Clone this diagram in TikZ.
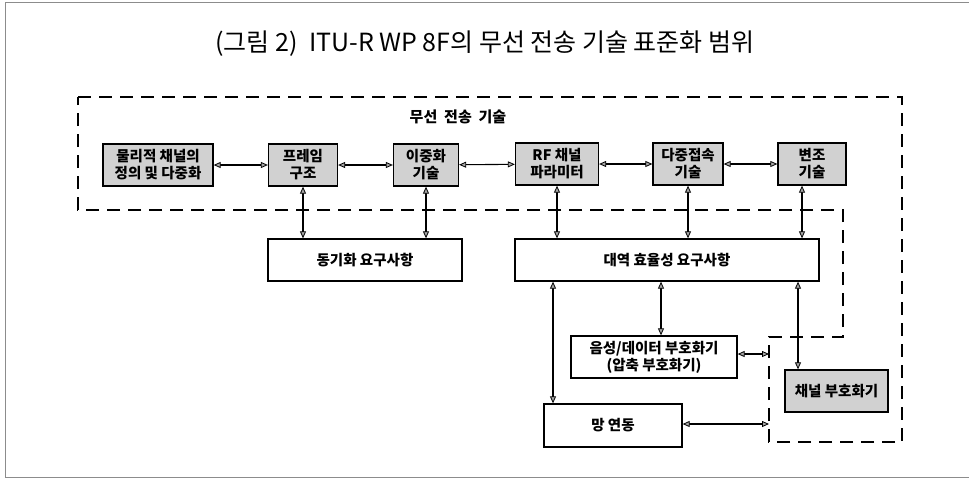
\documentclass[tikz,border=0pt]{standalone}
\usepackage{fontspec}
\setmainfont{Noto Sans CJK KR}
\usetikzlibrary{arrows.meta}
\tikzset{
  blk/.style={draw, line width=1.3pt, rectangle, inner sep=0pt, align=center, font=\bfseries\fontsize{14.5}{17}\selectfont, minimum height=42pt},
  gblk/.style={blk, fill=black!18},
  tipA/.tip={Triangle[length=7pt, width=6pt, fill=black!35, line width=0.8pt]},
  dbl/.style={line width=1.1pt, tipA-tipA},
  bound/.style={line width=1.5pt, dash pattern=on 13pt off 8pt},
}
\begin{document}
\begin{tikzpicture}[x=1pt,y=-1pt]
\useasboundingbox (0,0) rectangle (969,479);
\draw[black!45, line width=0.8pt] (969,2) -- (5,2) -- (5,477) -- (969,477);
\node[font=\fontsize{25}{28}\selectfont] (title) at (485,44) {(그림 2)\ \ ITU-R WP 8F의 무선 전송 기술 표준화 범위};
% boundary
\draw[bound] (78,97) -- (902,97) -- (902,442) -- (769,442) -- (769,337) -- (843,337) -- (843,210) -- (78,210) -- cycle;
\node[font=\bfseries\fontsize{15}{17}\selectfont] (lbl) at (458,117) {무선\ \ 전송\ \ 기술};
% top row
\node[gblk, minimum width=110pt] (b1) at (158,165) {물리적 채널의\\정의 및 다중화};
\node[gblk, minimum width=69pt] (b2) at (303,165) {프레임\\구조};
\node[gblk, minimum width=65pt] (b3) at (426,165) {이중화\\기술};
\node[gblk, minimum width=83pt] (b4) at (557,164) {RF 채널\\파라미터};
\node[gblk, minimum width=70pt] (b5) at (688,164) {다중접속\\기술};
\node[gblk, minimum width=68pt] (b6) at (812,164) {변조\\기술};
\draw[dbl] (b1) -- (b2);
\draw[dbl] (b2) -- (b3);
\draw[dbl] (b3) -- (b4);
\draw[dbl] (b4) -- (b5);
\draw[dbl] (b5) -- (b6);
% requirement boxes
\node[blk, minimum width=194pt] (sync) at (365,260) {동기화 요구사항};
\node[blk, minimum width=304pt] (band) at (667,260) {대역 효율성 요구사항};
\coordinate (x6) at (802,0);
\draw[dbl] (b2.south) -- (b2.south |- sync.north);
\draw[dbl] (b3.south) -- (b3.south |- sync.north);
\draw[dbl] (b4.south) -- (b4.south |- band.north);
\draw[dbl] (b5.south) -- (b5.south |- band.north);
\draw[dbl] (b6.south -| x6) -- (band.north -| x6);
% lower boxes
\node[blk, minimum width=166pt] (voice) at (654,357) {음성/데이터 부호화기\\(압축 부호화기)};
\node[gblk, minimum width=103pt] (chan) at (836.5,391) {채널 부호화기};
\node[blk, minimum width=138pt, minimum height=43pt] (net) at (613,425.5) {망 연동};
\coordinate (xa) at (553,0);
\coordinate (xb) at (661,0);
\coordinate (xc) at (798,0);
\draw[dbl] (band.south -| xa) -- (net.north -| xa);
\draw[dbl] (band.south -| xb) -- (voice.north -| xb);
\draw[dbl] (band.south -| xc) -- (chan.north -| xc);
\coordinate (ve) at (769,354);
\coordinate (ne) at (769,424);
\draw[dbl] (voice.east |- ve) -- (ve);
\draw[dbl] (net.east |- ne) -- (ne);
\end{tikzpicture}
\end{document}
